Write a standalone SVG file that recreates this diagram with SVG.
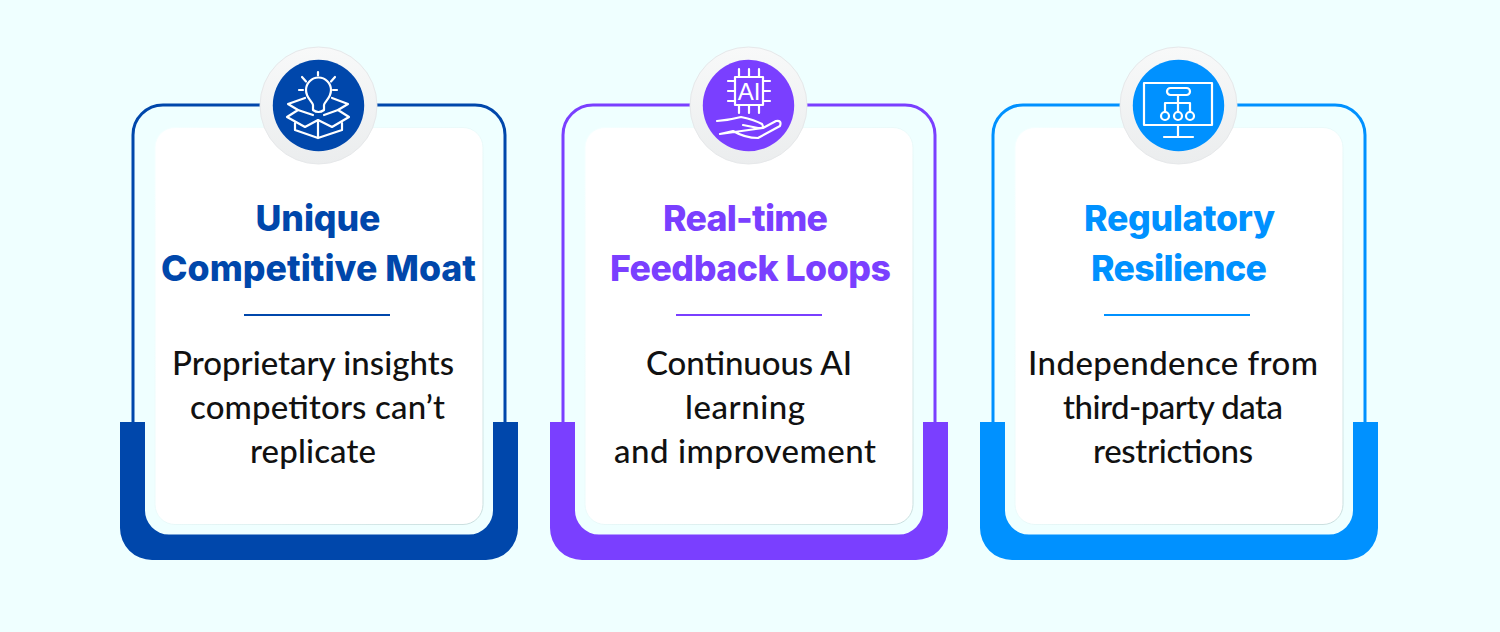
<svg xmlns="http://www.w3.org/2000/svg" width="1500" height="632" viewBox="0 0 1500 632">
<style>
.t{font-family:"Inter","Liberation Sans",sans-serif;font-weight:800;font-size:35.700px;text-anchor:middle}
.b{font-family:"Lato","Liberation Sans",sans-serif;font-weight:500;font-size:33px;fill:#111;text-anchor:middle}
.w{fill:none;stroke:#fff;stroke-width:2.200;stroke-linecap:round;stroke-linejoin:round}
.card{fill:#fff;stroke:url(#edge);stroke-width:1}
.halo{fill:url(#haloFill);stroke:#e6e8ea;stroke-width:1}
.o{fill:none;stroke-width:3}
</style>
<defs>
<linearGradient id="edge" x1="0" y1="0" x2="1" y2="1"><stop offset="0" stop-color="#f4ffff"/><stop offset="0.500" stop-color="#eafafa"/><stop offset="1" stop-color="#c9dede"/></linearGradient>
<linearGradient id="haloFill" x1="0" y1="0" x2="0" y2="1"><stop offset="0" stop-color="#f8f9f9"/><stop offset="1" stop-color="#ebedee"/></linearGradient>
</defs>
<rect width="1500" height="632" fill="#efffff"/>
<g id="card1">
<path class="o" d="M133 422V135a30 30 0 0 1 30-30H475a30 30 0 0 1 30 30V422" stroke="#0047ab"/>
<path d="M120 422H145V510a24 24 0 0 0 24 24.500H469a24 24 0 0 0 24-24.500V422H518V528a32 32 0 0 1-32 32H152a32 32 0 0 1-32-32Z" fill="#0047ab"/>
<rect class="card" x="155" y="127.500" width="328" height="397" rx="20"/>
<text class="t" x="318" y="231" fill="#0047ab" textLength="125">Unique</text>
<text class="t" x="318.500" y="281" fill="#0047ab" textLength="315">Competitive Moat</text>
<rect x="244" y="314" width="146" height="2" fill="#0047ab"/>
<text class="b" x="313" y="375" textLength="282">Proprietary insights</text>
<text class="b" x="317.500" y="419" textLength="255">competitors can’t</text>
<text class="b" x="313" y="463" textLength="126">replicate</text>
<circle class="halo" cx="318.500" cy="105.500" r="58.500"/>
<circle cx="318.500" cy="105.500" r="45.700" fill="#0047ab"/>
<g class="w">
<path d="M313 105c-1-4-7-7-7-15a12.500 12.500 0 0 1 25 0c0 8-6 11-7 15v5q-5.500 4-11 0Z"/>
<path d="M318 72v3.500M302 77l4 4.500M335 77l-4 4.500M299 90h4M333 90h4"/>
<path d="M305 98L288 104L298 110L287 117L305 127L318 120L332 127L349 117L338 110L348 104L332 98"/>
<path d="M298 110L313 115M338 110L324 115M295 123V130L318 138V120M342 123V130L318 138"/>
</g>
</g>
<g id="card2">
<path class="o" d="M563 422V135a30 30 0 0 1 30-30H905a30 30 0 0 1 30 30V422" stroke="#7a3fff"/>
<path d="M550 422H575V510a24 24 0 0 0 24 24.500H899a24 24 0 0 0 24-24.500V422H948V528a32 32 0 0 1-32 32H582a32 32 0 0 1-32-32Z" fill="#7a3fff"/>
<rect class="card" x="585" y="127.500" width="328" height="397" rx="20"/>
<text class="t" x="745.500" y="231" fill="#7a3fff" textLength="165">Real-time</text>
<text class="t" x="750.500" y="281" fill="#7a3fff" textLength="281">Feedback Loops</text>
<rect x="676" y="314" width="146" height="2" fill="#7a3fff"/>
<text class="b" x="749" y="375" textLength="206">Continuous AI</text>
<text class="b" x="745" y="419" textLength="120">learning</text>
<text class="b" x="745" y="463" textLength="262">and improvement</text>
<circle class="halo" cx="748.500" cy="105.500" r="58.500"/>
<circle cx="748.500" cy="105.500" r="45.700" fill="#7a3fff"/>
<g class="w">
<rect x="735" y="77" width="28" height="28"/>
<path d="M739 77v-8M749 77v-8M759 77v-8M739 105v8M749 105v8M759 105v8M735 81h-7M735 91h-7M735 101h-7M763 81h7M763 91h7M763 101h7"/>
<path d="M717 121Q730 120 741 117Q755 120 762 124Q765 129 758 128L743 125M763 128L776 121Q782 120 780 126L758 138Q745 138 733 131L720 134Z"/>
</g>
<text x="749" y="100" font-family="Liberation Sans,sans-serif" font-size="24" fill="#fff" text-anchor="middle">AI</text>
</g>
<g id="card3">
<path class="o" d="M993 422V135a30 30 0 0 1 30-30H1335a30 30 0 0 1 30 30V422" stroke="#0091ff"/>
<path d="M980 422H1005V510a24 24 0 0 0 24 24.500H1329a24 24 0 0 0 24-24.500V422H1378V528a32 32 0 0 1-32 32H1012a32 32 0 0 1-32-32Z" fill="#0091ff"/>
<rect class="card" x="1015" y="127.500" width="328" height="397" rx="20"/>
<text class="t" x="1179.500" y="231" fill="#0091ff" textLength="191">Regulatory</text>
<text class="t" x="1179" y="281" fill="#0091ff" textLength="176">Resilience</text>
<rect x="1104" y="314" width="146" height="2" fill="#0091ff"/>
<text class="b" x="1173" y="375" textLength="290">Independence from</text>
<text class="b" x="1173" y="419" textLength="220">third-party data</text>
<text class="b" x="1173" y="463" textLength="160">restrictions</text>
<circle class="halo" cx="1178.500" cy="105.500" r="58.500"/>
<circle cx="1178.500" cy="105.500" r="45.700" fill="#0091ff"/>
<g class="w">
<rect x="1144" y="83" width="68" height="42"/>
<rect x="1167" y="88" width="23" height="7" rx="3.500"/>
<path d="M1178 95v17M1165 112v-9h25v9M1178 125v12M1164 137h29"/>
<circle cx="1165" cy="116" r="4"/><circle cx="1178" cy="116" r="4"/><circle cx="1190" cy="116" r="4"/>
</g>
</g>
</svg>
